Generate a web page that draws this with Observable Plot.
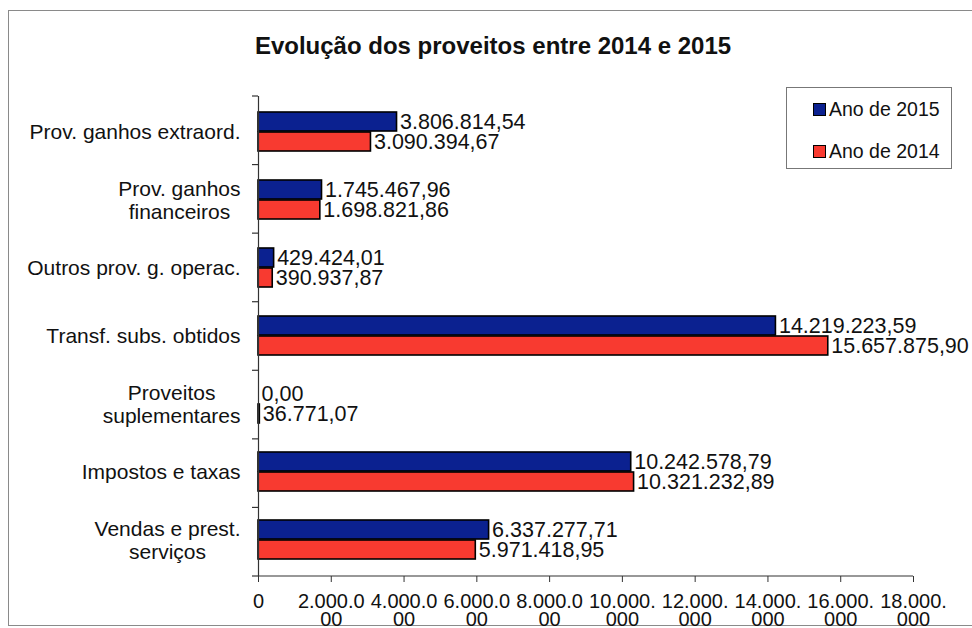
<!DOCTYPE html>
<html>
<head>
<meta charset="utf-8">
<script src="https://cdn.jsdelivr.net/npm/d3@7"></script>
<script src="https://cdn.jsdelivr.net/npm/@observablehq/plot@0.6"></script>
<style>
  html, body { margin: 0; padding: 0; background: #fff; }
  #wrap { position: relative; width: 972px; height: 628px; overflow: hidden; font-family: "Liberation Sans", Arial, sans-serif; color: #111; }
  #frame { position: absolute; left: 8px; top: 10px; width: 1000px; height: 616px; border: 1px solid #8a8a8a; box-sizing: border-box; }
  #title { position: absolute; left: 0; top: 33px; width: 986px; text-align: center; font-weight: bold; font-size: 24px; line-height: 25px; }
  #chart { position: absolute; left: 0; top: 0; }
  #legend { position: absolute; left: 786px; top: 87px; width: 166px; height: 82px; border: 1px solid #777; box-sizing: border-box; background: #fff; font-size: 19.5px; }
  .item { position: absolute; left: 26px; display: flex; align-items: center; height: 22px; }
  .sw { width: 11px; height: 11px; border: 1.5px solid #000; margin-right: 3px; }
</style>
</head>
<body>
<div id="wrap">
  <div id="frame"></div>
  <div id="chart"></div>
  <div id="title"></div>
  <div id="legend"></div>
</div>
<script>
const title = "Evolução dos proveitos entre 2014 e 2015";
const categories = ["Prov. ganhos extraord.", "Prov. ganhos financeiros", "Outros prov. g. operac.", "Transf. subs. obtidos", "Proveitos suplementares", "Impostos e taxas", "Vendas e prest. serviços"];
const categoryLabels = ["Prov. ganhos extraord.", "Prov. ganhos\nfinanceiros", "Outros prov. g. operac.", "Transf. subs. obtidos", "Proveitos\nsuplementares", "Impostos e taxas", "Vendas e prest.\nserviços"];
const seriesNames = ["Ano de 2015", "Ano de 2014"];
const values2015 = [3806814.54, 1745467.96, 429424.01, 14219223.59, 0.00, 10242578.79, 6337277.71];
const values2014 = [3090394.67, 1698821.86, 390937.87, 15657875.90, 36771.07, 10321232.89, 5971418.95];
const xTicks = [0, 2000000, 4000000, 6000000, 8000000, 10000000, 12000000, 14000000, 16000000, 18000000];
const colors = ["#0b2190", "#f83a30"];

const loc = d3.formatLocale({decimal: ",", thousands: ".", grouping: [3], currency: ["", ""]});
const fmtVal = loc.format(",.2f");
const fmtInt = loc.format(",d");
const tickFmt = d => { const s = fmtInt(d); return s.length > 7 ? s.slice(0, 7) + "\n" + s.slice(7) : s; };
const labelOf = new Map(categories.map((c, i) => [c, categoryLabels[i]]));

const rows2015 = categories.map((c, i) => ({category: c, value: values2015[i]}));
const rows2014 = categories.map((c, i) => ({category: c, value: values2014[i]}));

document.getElementById("title").textContent = title;
const legend = document.getElementById("legend");
seriesNames.forEach((name, i) => {
  const it = document.createElement("div");
  it.className = "item";
  it.style.top = (i === 0 ? 10 : 52) + "px";
  const sw = document.createElement("div");
  sw.className = "sw";
  sw.style.background = colors[i];
  const tx = document.createElement("span");
  tx.textContent = name;
  it.appendChild(sw); it.appendChild(tx);
  legend.appendChild(it);
});

const plot = Plot.plot({
  width: 972,
  height: 628,
  marginLeft: 258,
  marginRight: 59,
  marginTop: 96,
  marginBottom: 52,
  style: {background: "transparent", fontFamily: "Liberation Sans, Arial, sans-serif", color: "#111", overflow: "visible"},
  x: {domain: [0, 18000000], axis: null, label: null},
  y: {domain: categories, paddingInner: 0.42, paddingOuter: 0.21, axis: null, label: null},
  marks: [
    Plot.axisX({ticks: xTicks, tickFormat: tickFmt, tickSize: 6, tickPadding: 12, fontSize: 20, lineHeight: 0.92, anchor: "bottom", stroke: "#333", label: null}),
    Plot.axisY({tickFormat: d => labelOf.get(d), tickSize: 0, tickPadding: 18, fontSize: 21, lineHeight: 1.1, anchor: "left", label: null}),
    Plot.barX(rows2015, {x: "value", y: "category", fill: colors[0], stroke: "#000", strokeWidth: 1.6, insetBottom: 20}),
    Plot.barX(rows2014, {x: "value", y: "category", fill: colors[1], stroke: "#000", strokeWidth: 1.6, insetTop: 20}),
    Plot.text(rows2015, {x: "value", y: "category", text: d => fmtVal(d.value), textAnchor: "start", dx: 3, dy: -10, fontSize: 21.5, fill: "#111"}),
    Plot.text(rows2014, {x: "value", y: "category", text: d => fmtVal(d.value), textAnchor: "start", dx: 3, dy: 10, fontSize: 21.5, fill: "#111"}),
    Plot.ruleX([0], {stroke: "#333", strokeWidth: 1.2})
  ]
});
document.getElementById("chart").appendChild(plot);

// axis line and boundary ticks derived from the plot's own scales
const sx = plot.scale("x"), sy = plot.scale("y");
const svg = d3.select(plot);
const yBottom = sy.range[1], yTop = sy.range[0];
svg.append("line").attr("x1", sx.range[0]).attr("x2", sx.range[1]).attr("y1", yBottom).attr("y2", yBottom).attr("stroke", "#333").attr("stroke-width", 1.2);
const n = categories.length;
for (let i = 0; i <= n; i++) {
  const y = yTop + (yBottom - yTop) * i / n;
  svg.append("line").attr("x1", sx.range[0] - 6).attr("x2", sx.range[0]).attr("y1", y).attr("y2", y).attr("stroke", "#333").attr("stroke-width", 1.2);
}
// center multi-line category labels like the original
svg.selectAll('g[aria-label="y-axis tick label"] text').each(function() {
  const spans = this.querySelectorAll("tspan");
  if (spans.length > 1) {
    let w = 0;
    spans.forEach(s => { w = Math.max(w, s.getComputedTextLength()); });
    this.setAttribute("text-anchor", "middle");
    const t = this.getAttribute("transform") || "";
    this.setAttribute("transform", t + ` translate(${-w / 2},0)`);
  }
});
</script>
</body>
</html>
